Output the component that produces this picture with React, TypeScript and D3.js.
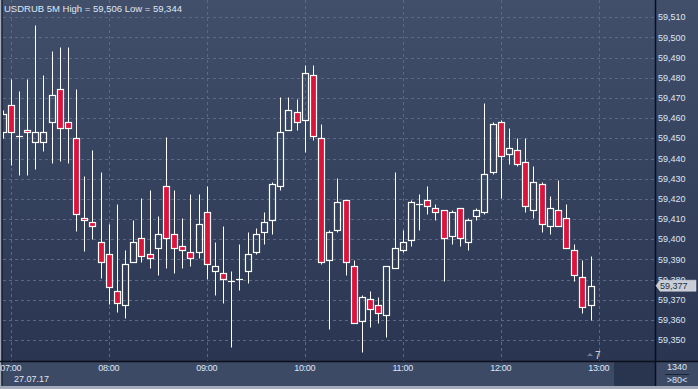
import React from 'react';
import * as d3 from 'd3';

const W = 698;
const H = 389;

const title = 'USDRUB 5M High = 59,506 Low = 59,344';
const dateLabel = '27.07.17';
const lastPrice = 59.377;
const barCountLabel = '1340';
const zoomLabel = '>80<';
const cornerLabel = '7';

const times = [
  '06:55', '07:00', '07:05', '07:10', '07:15', '07:20', '07:25', '07:30', '07:35', '07:40', '07:45', '07:50', '07:55',
  '08:00', '08:05', '08:10', '08:15', '08:20', '08:25', '08:30', '08:35', '08:40', '08:45', '08:50', '08:55',
  '09:00', '09:05', '09:10', '09:15', '09:20', '09:25', '09:30', '09:35', '09:40', '09:45', '09:50', '09:55',
  '10:00', '10:05', '10:10', '10:15', '10:20', '10:25', '10:30', '10:35', '10:40', '10:45', '10:50', '10:55',
  '11:00', '11:05', '11:10', '11:15', '11:20', '11:25', '11:30', '11:35', '11:40', '11:45', '11:50', '11:55',
  '12:00', '12:05', '12:10', '12:15', '12:20', '12:25', '12:30', '12:35', '12:40', '12:45', '12:50', '12:55',
];

const open = [
  59.4529, 59.4663, 59.4510, 59.4539, 59.4480, 59.4480, 59.4579, 59.4742, 59.4579, 59.4500, 59.4104, 59.4084, 59.3985,
  59.3925, 59.3742, 59.3673, 59.3886, 59.4004, 59.3925, 59.3955, 59.4262, 59.4024, 59.3965, 59.3935,
  59.3935, 59.4133, 59.3841, 59.3831, 59.3792, 59.3801, 59.3841, 59.3935, 59.4034, 59.4094, 59.4262, 59.4539,
  59.4629, 59.4589, 59.4812, 59.4500, 59.3896, 59.4044, 59.4193, 59.3866, 59.3593, 59.3702, 59.3673, 59.3623,
  59.3856, 59.3945, 59.3995, 59.4173, 59.4193, 59.4153, 59.4143, 59.4014, 59.4153, 59.3985, 59.4113, 59.4133,
  59.4331, 59.4579, 59.4421, 59.4440, 59.4381, 59.4143, 59.4272, 59.4064, 59.4143, 59.4104, 59.3945, 59.3811,
  59.3673,
];

const high = [
  59.4640, 59.4793, 59.4734, 59.4793, 59.5061, 59.4813, 59.4932, 59.4952, 59.4952, 59.4744, 59.4315, 59.4442, 59.4333,
  59.4075, 59.4174, 59.3947, 59.4095, 59.4204, 59.4244, 59.4115, 59.4505, 59.4244, 59.4105, 59.4224,
  59.4224, 59.4264, 59.3986, 59.4065, 59.3841, 59.3976, 59.4034, 59.4054, 59.4133, 59.4282, 59.4704, 59.4704,
  59.4694, 59.4863, 59.4863, 59.4569, 59.4044, 59.4302, 59.4193, 59.3896, 59.3722, 59.3742, 59.3712, 59.3866,
  59.4331, 59.4044, 59.4193, 59.4222, 59.4262, 59.4173, 59.4143, 59.4143, 59.4153, 59.4104, 59.4153, 59.4673,
  59.4579, 59.4589, 59.4550, 59.4500, 59.4500, 59.4361, 59.4282, 59.4213, 59.4292, 59.4173, 59.3975, 59.3896,
  59.3917,
];

const low = [
  59.4500, 59.4369, 59.4319, 59.4319, 59.4349, 59.4438, 59.4379, 59.4389, 59.4379, 59.4042, 59.3943, 59.4003, 59.3809,
  59.3681, 59.3641, 59.3611, 59.3886, 59.3886, 59.3856, 59.3821, 59.3856, 59.3831, 59.3856, 59.3866,
  59.3905, 59.3801, 59.3722, 59.3683, 59.3465, 59.3750, 59.3782, 59.3925, 59.3975, 59.4024, 59.4242, 59.4539,
  59.4539, 59.4430, 59.4490, 59.3876, 59.3554, 59.4034, 59.3821, 59.3584, 59.3443, 59.3564, 59.3584, 59.3514,
  59.3856, 59.3935, 59.3965, 59.4044, 59.4123, 59.4094, 59.3792, 59.3975, 59.3965, 59.3945, 59.4094, 59.4123,
  59.4322, 59.4203, 59.4371, 59.4361, 59.4133, 59.4104, 59.4034, 59.4024, 59.4064, 59.3955, 59.3792, 59.3633,
  59.3600,
];

const close = [
  59.4619, 59.4529, 59.4510, 59.4529, 59.4529, 59.4529, 59.4713, 59.4549, 59.4549, 59.4123, 59.4094, 59.4064, 59.3886,
  59.3762, 59.3683, 59.3876, 59.3985, 59.3915, 59.3905, 59.4024, 59.4004, 59.3955, 59.3945, 59.3905,
  59.4074, 59.3876, 59.3866, 59.3801, 59.3792, 59.3801, 59.3925, 59.4024, 59.4084, 59.4272, 59.4529, 59.4638,
  59.4579, 59.4822, 59.4510, 59.3886, 59.4034, 59.4183, 59.3886, 59.3584, 59.3712, 59.3653, 59.3633, 59.3866,
  59.3955, 59.3985, 59.4183, 59.4173, 59.4163, 59.4133, 59.4004, 59.4133, 59.4004, 59.4094, 59.4143, 59.4322,
  59.4569, 59.4411, 59.4450, 59.4371, 59.4163, 59.4282, 59.4074, 59.4153, 59.4064, 59.3955, 59.3821, 59.3663,
  59.3770,
];

const priceTicks = [59.35, 59.36, 59.37, 59.38, 59.39, 59.40, 59.41, 59.42, 59.43, 59.44, 59.45, 59.46, 59.47, 59.48, 59.49, 59.50, 59.51];
const timeTicks = ['07:00', '08:00', '09:00', '10:00', '11:00', '12:00', '13:00'];

const parseT = d3.timeParse('%H:%M');
const fmtPrice = (v: number) => v.toFixed(3).replace('.', ',');

const PLOT_L = 3;
const PLOT_R = 655;
const PLOT_B = 361;
const AXIS_B = 386;

export default function App() {
  const x = d3.scaleTime()
    .domain([parseT('07:00') as Date, parseT('13:00') as Date])
    .range([10.7, 598.7]);
  const y = d3.scaleLinear().domain([59.35, 59.51]).range([340.2, 17.2]);

  const font = "'Liberation Sans', Arial, sans-serif";
  const textCol = '#dfe6f2';
  const gridCol = '#5b6886';

  const candles = times.map((t, i) => {
    const cx = Math.round(x(parseT(t) as Date));
    const o = open[i], c = close[i], h = high[i], l = low[i];
    const up = c >= o;
    const yTop = Math.round(y(Math.max(o, c))) + 0.5;
    const yBot = Math.round(y(Math.min(o, c))) + 0.5;
    const yH = Math.round(y(h)) + 0.5;
    const yL = Math.round(y(l)) + 0.5;
    const doji = yBot - yTop < 1;
    return (
      <g key={t}>
        {yH < yTop && <line x1={cx + 0.5} x2={cx + 0.5} y1={yH} y2={yTop} stroke="#fff" strokeWidth={1} />}
        {yL > yBot && <line x1={cx + 0.5} x2={cx + 0.5} y1={yBot} y2={yL} stroke="#fff" strokeWidth={1} />}
        {doji ? (
          <line x1={cx - 3} x2={cx + 4} y1={yTop} y2={yTop} stroke="#fff" strokeWidth={1.2} />
        ) : (
          <rect x={cx - 2.5} y={yTop} width={6} height={yBot - yTop}
            fill={up ? 'none' : '#dc143c'} stroke="#fff" strokeWidth={1.2} />
        )}
      </g>
    );
  });

  const yLast = y(lastPrice);

  return (
    <svg width={W} height={H} style={{ position: 'absolute', left: 0, top: 0, display: 'block' }}>
      <defs>
        <linearGradient id="bg" x1="0" y1="0" x2="0" y2="1">
          <stop offset="0" stopColor="#414f6b" />
          <stop offset="1" stopColor="#28334f" />
        </linearGradient>
        <clipPath id="plot">
          <rect x={PLOT_L} y={0} width={PLOT_R - PLOT_L} height={PLOT_B} />
        </clipPath>
      </defs>
      <rect x={0} y={0} width={W} height={H} fill="url(#bg)" />
      {/* bottom axis band */}
      <rect x={0} y={PLOT_B} width={W} height={AXIS_B - PLOT_B} fill="#3d4a66" />
      <rect x={614} y={PLOT_B + 1} width={PLOT_R - 614} height={AXIS_B - PLOT_B - 1} fill="#29344f" />
      <rect x={0} y={AXIS_B} width={W} height={H - AXIS_B} fill="#a3abba" />
      <rect x={0} y={0} width={1.5} height={H} fill="#a3abba" />

      {/* grid */}
      <g clipPath="url(#plot)">
        {priceTicks.map((p) => (
          <line key={p} x1={PLOT_L} x2={PLOT_R} y1={Math.round(y(p)) + 0.5} y2={Math.round(y(p)) + 0.5}
            stroke={gridCol} strokeWidth={1} strokeDasharray="3,3" />
        ))}
        {timeTicks.map((t) => {
          const xx = Math.round(x(parseT(t) as Date)) + 0.5;
          return (
            <line key={t} x1={xx} x2={xx} y1={0} y2={PLOT_B} stroke={gridCol} strokeWidth={1} strokeDasharray="3,3" />
          );
        })}
        {candles}
      </g>

      {/* frame lines */}
      <line x1={0} x2={W} y1={PLOT_B + 0.5} y2={PLOT_B + 0.5} stroke="#0b0f18" strokeWidth={1.5} />
      <line x1={PLOT_R + 0.5} x2={PLOT_R + 0.5} y1={0} y2={AXIS_B} stroke="#0b0f18" strokeWidth={1.5} />
      <line x1={2} x2={2} y1={0} y2={AXIS_B} stroke="#0b0f18" strokeWidth={1} />

      {/* title */}
      <text x={4} y={12} fill={textCol} fontFamily={font} fontSize={9.5}>{title}</text>

      {/* right price labels */}
      {priceTicks.map((p) => (
        <text key={p} x={658} y={y(p)} dy="0.35em" fill={textCol} fontFamily={font} fontSize={9}>
          {fmtPrice(p)}
        </text>
      ))}

      {/* last price tag */}
      <path d={`M656,${yLast} L660,${yLast - 5.5} L696,${yLast - 5.5} L696,${yLast + 5.5} L660,${yLast + 5.5} Z`}
        fill="#c8cdd6" stroke="#e4e7ec" strokeWidth={0.5} />
      <text x={660} y={yLast} dy="0.35em" fill="#24304a" fontFamily={font} fontSize={9}>{fmtPrice(lastPrice)}</text>

      {/* time labels */}
      {timeTicks.map((t) => (
        <text key={t} x={x(parseT(t) as Date)} y={371} textAnchor="middle" fill={textCol}
          fontFamily={font} fontSize={9} letterSpacing={-0.3}>{t}</text>
      ))}
      <text x={14} y={382} fill={textCol} fontFamily={font} fontSize={9}>{dateLabel}</text>

      {/* corner marks */}
      <path d="M587,356 L590,353 L593,356 Z" fill="#6f7b95" />
      <text x={595} y={359} fill={textCol} fontFamily={font} fontSize={10}>{cornerLabel}</text>
      <text x={677} y={370} textAnchor="middle" fill={textCol} fontFamily={font} fontSize={9}>{barCountLabel}</text>
      <line x1={665} x2={689} y1={374.5} y2={374.5} stroke="#1a2235" strokeWidth={1} />
      <text x={677} y={383} textAnchor="middle" fill={textCol} fontFamily={font} fontSize={9}>{zoomLabel}</text>
    </svg>
  );
}
